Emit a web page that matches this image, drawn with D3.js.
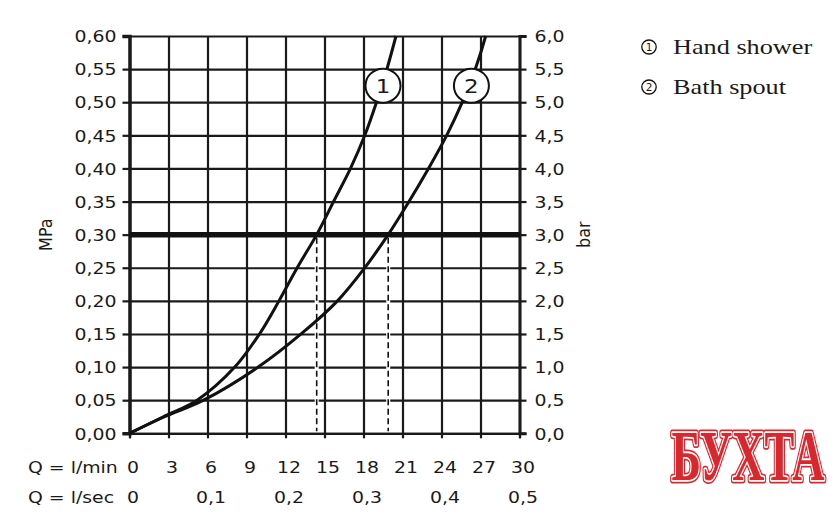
<!DOCTYPE html>
<html>
<head>
<meta charset="utf-8">
<script src="https://cdn.jsdelivr.net/npm/d3@7"></script>
<style>
  body { margin: 0; background: #fff; }
  svg text { font-family: "DejaVu Sans", sans-serif; fill: #1a1a1a; }
</style>
</head>
<body>
<div id="chart"></div>
<script>
var pressureMPa = [0, 0.025, 0.05, 0.10, 0.15, 0.20, 0.25, 0.30, 0.35, 0.40, 0.45, 0.50, 0.55, 0.60];
var handShowerFlow = [0, 2.6, 5.2, 8.1, 10.0, 11.5, 12.9, 14.4, 15.7, 17.0, 18.1, 19.0, 19.8, 20.5];
var bathSpoutFlow = [0, 2.7, 5.7, 9.9, 13.2, 16.0, 18.1, 19.9, 21.5, 23.0, 24.4, 25.6, 26.6, 27.4];

var seriesNames = ["Hand shower", "Bath spout"];
var seriesMarks = ["1", "2"];
var markerFlow = [19.5, 26.3];
var markerPressure = 0.525;

var refPressure = 0.30;
var refFlow = [14.4, 19.9];

var flowTicks = [0, 3, 6, 9, 12, 15, 18, 21, 24, 27, 30];
var secTicks = [0, 0.1, 0.2, 0.3, 0.4, 0.5];
var mpaTicks = d3.range(0, 0.601, 0.05);
var barTicks = d3.range(0, 6.01, 0.5);

var W = 840, H = 532;
var x0 = 129.5, x1 = 519.5, yb = 433.3, yt = 36;
var sx = 1.18; // horizontal stretch of the labels

var svg = d3.select("#chart").append("svg")
    .attr("width", W)
    .attr("height", H);

var x = d3.scaleLinear().domain([0, 30]).range([x0, x1]);
var xSec = d3.scaleLinear().domain([0, 0.5]).range([x0, x1]);
var y = d3.scaleLinear().domain([0, 0.6]).range([yb, yt]);
var yBar = d3.scaleLinear().domain([0, 6]).range([yb, yt]);

var comma = function(f){ return function(d){ return d3.format(f)(d).replace(".", ","); }; };

/*grid*/
svg.append("g")
    .attr("transform", "translate(0," + yb + ")")
    .call(d3.axisBottom(x).tickValues(flowTicks).tickSize(-(yb - yt)).tickFormat(""))
    .call(g => g.select(".domain").remove())
    .selectAll("line").attr("stroke", "#1a1a1a").attr("stroke-width", 2.2);

svg.append("g")
    .attr("transform", "translate(" + x0 + ",0)")
    .call(d3.axisLeft(y).tickValues(mpaTicks).tickSize(-(x1 - x0)).tickFormat(""))
    .call(g => g.select(".domain").remove())
    .selectAll("line").attr("stroke", "#1a1a1a").attr("stroke-width", 2.2);

/*left axis MPa*/
var left = svg.append("g")
    .attr("transform", "translate(" + x0 + ",0)")
    .call(d3.axisLeft(y).tickValues(mpaTicks).tickSize(7).tickPadding(6).tickFormat(comma(".2f")));
left.select(".domain").attr("stroke", "#1a1a1a").attr("stroke-width", 3.5);
left.selectAll("line").attr("stroke", "#1a1a1a").attr("stroke-width", 2.2);
left.selectAll("text")
    .attr("x", null).attr("dy", "0.36em")
    .attr("transform", "translate(-13,0) scale(" + sx + ",1)")
    .style("font-size", "16px").attr("fill", "#1a1a1a");

/*right axis bar*/
var right = svg.append("g")
    .attr("transform", "translate(" + x1 + ",0)")
    .call(d3.axisRight(yBar).tickValues(barTicks).tickSize(7).tickPadding(8).tickFormat(comma(".1f")));
right.select(".domain").attr("stroke", "#1a1a1a").attr("stroke-width", 3);
right.selectAll("line").attr("stroke", "#1a1a1a").attr("stroke-width", 2.2);
right.selectAll("text")
    .attr("x", null).attr("dy", "0.36em")
    .attr("transform", "translate(15,0) scale(" + sx + ",1)")
    .style("font-size", "16px").attr("fill", "#1a1a1a");

/*bottom axis l/min*/
var bottom = svg.append("g")
    .attr("transform", "translate(0," + yb + ")")
    .call(d3.axisBottom(x).tickValues(flowTicks).tickSize(5).tickFormat(d3.format("d")));
bottom.select(".domain").attr("stroke", "#1a1a1a").attr("stroke-width", 2.2);
bottom.selectAll("line").attr("stroke", "#1a1a1a").attr("stroke-width", 2.2);
bottom.selectAll("text")
    .attr("y", null).attr("dy", null)
    .attr("transform", "translate(3,40) scale(" + sx + ",1)")
    .style("font-size", "16px").attr("fill", "#1a1a1a");

/*second row l/sec*/
var bottom2 = svg.append("g")
    .attr("transform", "translate(0," + yb + ")")
    .call(d3.axisBottom(xSec).tickValues(secTicks).tickSize(0).tickFormat(function(d){ return d === 0 ? "0" : comma(".1f")(d); }));
bottom2.select(".domain").remove();
bottom2.selectAll("text")
    .attr("y", null).attr("dy", null)
    .attr("transform", "translate(3,70) scale(" + sx + ",1)")
    .style("font-size", "16px").attr("fill", "#1a1a1a");

svg.append("text")
    .attr("transform", "translate(28," + (yb + 40) + ") scale(" + sx + ",1)")
    .style("font-size", "16px")
    .text("Q = l/min");
svg.append("text")
    .attr("transform", "translate(28," + (yb + 70) + ") scale(" + sx + ",1)")
    .style("font-size", "16px")
    .text("Q = l/sec");

/*axis titles*/
svg.append("text")
    .attr("transform", "translate(52," + y(0.30) + ") rotate(-90) scale(1,1.12)")
    .attr("text-anchor", "middle")
    .style("font-size", "16px")
    .text("MPa");
svg.append("text")
    .attr("transform", "translate(590," + y(0.30) + ") rotate(-90) scale(1,1.12)")
    .attr("text-anchor", "middle")
    .style("font-size", "16px")
    .text("bar");

/*reference pressure*/
svg.append("line")
    .attr("x1", x(0)).attr("x2", x(30))
    .attr("y1", y(refPressure)).attr("y2", y(refPressure))
    .attr("stroke", "#111").attr("stroke-width", 5.5);

var drops = svg.append("g").selectAll("g")
    .data(refFlow)
    .join("g");
drops.append("line")
    .attr("x1", d => x(d)).attr("x2", d => x(d))
    .attr("y1", y(refPressure) + 3).attr("y2", y(0) - 2)
    .attr("stroke", "#fff").attr("stroke-width", 4);
drops.append("line")
    .attr("x1", d => x(d)).attr("x2", d => x(d))
    .attr("y1", y(refPressure) + 3).attr("y2", y(0) - 2)
    .attr("stroke", "#111").attr("stroke-width", 1.6)
    .attr("stroke-dasharray", "6,3.5");

/*curves*/
var series = [handShowerFlow, bathSpoutFlow];
var line = d3.line()
    .x(d => x(d[0]))
    .y(d => y(d[1]))
    .curve(d3.curveCatmullRom.alpha(0.5));

svg.append("g").selectAll("path")
    .data(series)
    .join("path")
    .attr("fill", "none")
    .attr("stroke", "#111")
    .attr("stroke-width", 3)
    .attr("d", function(s){ return line(s.map((f, i) => [f, pressureMPa[i]])); });

/*curve markers*/
var marks = svg.append("g").selectAll("g")
    .data(seriesMarks)
    .join("g")
    .attr("transform", (d, i) => "translate(" + x(markerFlow[i]) + "," + y(markerPressure) + ")");
marks.append("ellipse")
    .attr("rx", 17.5).attr("ry", 17)
    .attr("fill", "#fff").attr("stroke", "#111").attr("stroke-width", 2);
marks.append("text")
    .attr("text-anchor", "middle")
    .attr("dy", "0.36em")
    .attr("transform", "scale(1.15,1)")
    .style("font-size", "20px")
    .text(d => d);

/*legend*/
var legend = svg.append("g").selectAll("g")
    .data(seriesNames)
    .join("g")
    .attr("transform", (d, i) => "translate(649," + (47 + i * 40) + ")");
legend.append("ellipse")
    .attr("rx", 7.2).attr("ry", 7)
    .attr("fill", "none").attr("stroke", "#111").attr("stroke-width", 1.3);
legend.append("text")
    .attr("text-anchor", "middle")
    .attr("dy", "0.36em")
    .style("font-size", "10.5px")
    .text((d, i) => seriesMarks[i]);
legend.append("text")
    .attr("transform", "translate(24,7) scale(1.25,1)")
    .style("font-family", "'Liberation Serif', serif")
    .style("font-size", "21px")
    .text(d => d);

/*watermark*/
var wm = svg.append("g").attr("transform", "translate(748,480) scale(0.86,1.4)");
[["#d9272e", 5], ["#fff", 2.5], ["#d9272e", 0]].forEach(function(s){
    wm.append("text")
        .attr("text-anchor", "middle")
        .style("font-family", "'Liberation Serif', serif")
        .style("font-weight", "bold")
        .style("font-size", "52px")
        .style("fill", s[0]).style("stroke", s[1] ? s[0] : "none").style("stroke-width", s[1])
        .style("stroke-linejoin", "round")
        .text("БУХТА");
});
</script>
</body>
</html>
